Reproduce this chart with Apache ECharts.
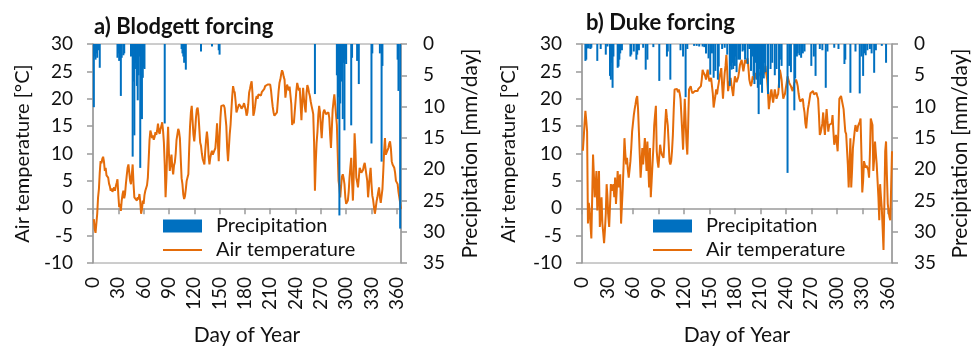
<!DOCTYPE html>
<html>
<head>
<meta charset="utf-8">
<script src="https://cdn.jsdelivr.net/npm/echarts@6/dist/echarts.min.js"></script>
<style>
  html, body { margin: 0; padding: 0; background: #fff; }
  #chart { width: 972px; height: 351px; }
</style>
</head>
<body>
<div id="chart"></div>
<script>
// Daily air temperature (°C), day 1..365, Blodgett site forcing
const blodgettTemp = [
  -2.0, -3.8, -4.5, -4.3, -1.0, 2.0, 3.5, 6.5, 8.6, 8.2,
  9.0, 9.4, 8.5, 6.8, 7.4, 6.0, 6.2, 5.6, 4.5, 4.0,
  3.2, 3.6, 3.0, 3.4, 3.8, 3.2, 4.0, 4.6, 5.3, 2.5,
  0.2, 0.8, -0.5, 1.4, 2.5, 3.2, 1.8, 2.6, 4.5, 6.0,
  7.4, 8.0, 6.5, 5.0, 4.4, 6.2, 8.0, 4.5, 2.0, 2.3,
  1.8, 1.4, 2.0, 1.6, 2.6, 1.2, -1.0, -0.2, 1.4, 0.8,
  2.4, 3.2, 3.0, 4.2, 5.6, 9.0, 12.5, 14.2, 13.6, 12.8,
  13.3, 12.5, 13.0, 13.9, 13.4, 14.2, 15.45, 14.0, 13.6, 14.5,
  15.0, 15.7, 14.2, 12.0, 8.0, 2.0, 5.5, 11.0, 14.9, 10.0,
  6.8, 8.5, 9.8, 7.5, 6.2, 7.8, 8.4, 10.0, 12.5, 13.5,
  14.5, 14.0, 12.7, 9.0, 5.5, 4.4, 2.5, 1.7, 2.2, 3.5,
  5.0, 5.6, 6.2, 11.0, 15.0, 17.5, 18.7, 16.0, 13.5, 12.2,
  14.0, 16.5, 18.0, 18.4, 17.0, 14.5, 12.0, 11.4, 10.0, 9.0,
  8.5, 8.0, 10.5, 12.5, 14.0, 12.5, 9.5, 8.0, 9.2, 10.0,
  10.5, 9.8, 10.2, 10.5, 11.0, 13.0, 15.5, 12.0, 8.6, 13.0,
  16.5, 18.7, 18.9, 19.0, 18.8, 18.3, 18.0, 15.0, 11.0, 8.6,
  11.0, 13.5, 15.2, 18.0, 20.5, 22.3, 21.5, 21.1, 19.5, 17.5,
  18.0, 18.5, 19.0, 19.3, 18.6, 18.2, 18.0, 18.7, 19.2, 19.0,
  18.0, 16.9, 17.5, 19.0, 21.1, 21.8, 22.6, 23.2, 21.0, 16.9,
  17.5, 18.5, 19.9, 20.5, 20.0, 20.8, 20.5, 21.0, 20.6, 21.2,
  21.4, 21.0, 21.8, 22.3, 22.6, 22.4, 22.6, 22.5, 22.8, 22.6,
  21.5, 19.9, 18.5, 17.5, 16.9, 17.2, 17.0, 17.5, 19.5, 21.5,
  22.9, 23.5, 24.5, 25.2, 24.8, 24.0, 23.5, 20.2, 21.5, 22.6,
  22.6, 21.5, 22.2, 22.0, 19.0, 15.2, 16.0, 15.5, 15.8, 19.5,
  21.5, 22.9, 22.2, 21.5, 22.0, 19.0, 16.1, 19.5, 22.0, 20.0,
  18.5, 17.5, 21.0, 22.5, 22.0, 21.1, 20.5, 19.5, 18.7, 18.0,
  17.2, 12.0, 3.2, 8.5, 12.0, 14.0, 17.0, 18.7, 17.5, 15.0,
  12.8, 15.5, 17.5, 18.0, 17.8, 17.2, 16.9, 17.2, 17.5, 16.5,
  13.5, 11.0, 14.5, 18.0, 19.5, 20.8, 19.0, 17.0, 15.2, 10.0,
  5.0, 3.8, 2.0, 4.0, 5.8, 6.2, 5.5, 4.4, 2.0, 0.8,
  0.9, 1.4, 3.0, 5.6, 7.5, 9.2, 5.0, 1.4, 6.0, 13.7,
  10.5, 5.6, 4.8, 3.8, 5.5, 7.4, 7.0, 6.5, 6.2, 7.0,
  7.8, 8.3, 8.5, 8.0, 5.0, 2.0, 4.0, 6.0, 7.4, 4.5,
  2.3, 1.5, 0.2, -1.0, 0.0, 1.2, 2.0, 3.0, 3.8, 2.0,
  1.0, 0.8, 3.5, 6.8, 10.5, 12.8, 9.8, 10.2, 10.5, 11.0,
  11.8, 12.2, 11.0, 8.6, 8.0, 7.8, 7.4, 6.5, 5.0, 4.8,
  4.4, 3.0, 2.0, 1.0, -0.1
];

// Daily air temperature (°C), day 1..365, Duke site forcing
const dukeTemp = [
  10.5, 12.8, 15.5, 17.8, 16.0, 14.0, -2.8, 1.0, -0.4, -3.0,
  -5.5, 2.0, 9.8, 6.0, 2.0, 4.0, 6.8, -0.4, 3.0, 6.8,
  -3.4, -1.0, 2.0, -2.8, -4.5, -6.4, -4.0, -1.0, 4.4, 2.0,
  -1.5, -3.4, 0.5, 4.4, 3.2, 3.8, 4.4, 2.0, 5.6, 0.8,
  3.5, 6.8, 3.8, 5.0, 6.2, -2.8, 0.5, 3.8, 8.0, 12.8,
  10.0, 8.0, 9.2, 7.0, 5.6, 7.0, 8.6, 11.0, 14.0, 15.5,
  17.0, 18.1, 19.0, 20.0, 20.5, 18.1, 14.0, 9.8, 5.6, 8.0,
  11.0, 8.0, 10.5, 12.8, 10.0, 6.8, 12.2, 8.0, 3.8, 11.0,
  2.0, 5.0, 8.0, 11.0, 15.1, 17.0, 18.7, 10.4, 8.5, 7.4,
  9.5, 11.6, 10.5, 9.8, 9.5, 9.2, 12.0, 15.5, 18.1, 16.5,
  15.1, 12.0, 8.6, 8.0, 8.6, 10.5, 13.4, 18.0, 21.7, 21.5,
  22.0, 21.8, 21.2, 21.7, 21.0, 20.0, 17.0, 14.0, 10.7, 15.0,
  20.0, 16.0, 12.0, 9.8, 15.0, 21.7, 22.0, 22.3, 21.5, 21.0,
  21.3, 21.1, 21.4, 21.6, 21.2, 21.4, 21.8, 22.0, 21.7, 22.3,
  23.5, 25.3, 24.8, 25.0, 24.2, 23.5, 24.5, 25.3, 24.0, 23.2,
  22.9, 23.8, 23.5, 21.0, 18.4, 19.5, 20.5, 21.7, 20.8, 22.0,
  22.9, 24.0, 24.8, 25.6, 22.5, 20.0, 22.5, 24.7, 26.0, 28.0,
  25.0, 21.4, 22.5, 22.8, 23.8, 22.5, 21.5, 20.5, 22.5, 24.1,
  23.8, 23.0, 22.9, 24.0, 25.0, 26.2, 26.5, 27.1, 26.0, 25.0,
  26.0, 27.1, 26.5, 27.0, 27.4, 25.5, 23.5, 22.8, 22.3, 23.0,
  24.1, 24.0, 23.5, 24.0, 24.7, 24.5, 24.0, 24.1, 24.5, 24.8,
  25.0, 24.7, 24.3, 24.1, 25.0, 26.0, 24.5, 23.5, 21.0, 18.1,
  19.5, 21.0, 21.7, 20.5, 19.3, 20.5, 21.7, 20.8, 20.0, 20.5,
  20.9, 23.0, 25.3, 24.5, 23.5, 21.5, 20.0, 20.5, 20.9, 22.0,
  22.9, 24.1, 23.5, 22.9, 22.6, 22.3, 21.8, 21.4, 22.0, 22.9,
  23.2, 23.5, 23.0, 22.3, 21.0, 20.0, 19.5, 19.3, 19.8, 20.0,
  18.5, 17.5, 15.5, 14.6, 16.5, 18.1, 19.0, 20.0, 21.0, 21.1,
  21.3, 21.4, 20.8, 20.5, 20.8, 21.1, 20.5, 20.0, 17.0, 13.4,
  13.8, 14.0, 15.5, 17.5, 15.0, 13.4, 16.0, 18.1, 16.0, 14.0,
  15.2, 15.0, 14.9, 15.5, 17.0, 14.0, 11.6, 12.5, 13.4, 12.0,
  10.4, 14.5, 20.0, 20.3, 20.5, 20.2, 20.5, 18.1, 16.0, 14.0,
  13.6, 13.4, 8.0, 3.8, 8.0, 12.8, 3.8, 7.0, 11.0, 12.5,
  14.0, 15.2, 14.5, 14.0, 15.0, 15.2, 15.8, 16.4, 10.0, 2.9,
  5.0, 8.6, 8.0, 7.4, 7.8, 8.0, 7.0, 5.6, 10.0, 16.4,
  15.8, 15.2, 6.8, 9.0, 12.2, 10.0, 8.0, 5.0, 2.0, -2.2,
  4.4, 2.0, 0.0, -3.8, -7.6, 0.8, 10.4, 12.2, 6.0, 0.8,
  -0.5, -1.6, -2.2, 4.0, 10.4
];

// Rain days as [day of year, precipitation mm/day]; all other days are dry
const blodgettPrecip = [
  [1, 10.1], [2, 2.0], [3, 2.5], [4, 1.5], [5, 2.2], [6, 1.0], [8, 3.8],
  [29, 2.2], [30, 1.5], [31, 2.7], [33, 8.3], [34, 2.2], [36, 1.8], [37, 1.5],
  [45, 2.0], [46, 1.5], [47, 18.0], [48, 6.0], [49, 14.6], [50, 3.0], [51, 4.0],
  [52, 6.7], [53, 9.0], [54, 5.0], [55, 2.0], [56, 19.8], [57, 8.0], [58, 12.0],
  [59, 5.4], [60, 3.8], [61, 4.0],
  [85, 12.7],
  [105, 0.8], [106, 1.5], [107, 2.0], [108, 3.0], [109, 2.4], [110, 4.1],
  [128, 1.2], [141, 0.4], [149, 1.0], [150, 1.7],
  [263, 8.0],
  [289, 5.0], [290, 12.0], [291, 8.5], [292, 27.4], [293, 9.5], [294, 6.0],
  [295, 4.0], [296, 12.0], [297, 3.0], [298, 13.8], [299, 2.5], [300, 3.2],
  [306, 13.0], [307, 2.2], [313, 2.7], [315, 6.4],
  [330, 15.9], [331, 1.5], [340, 1.5], [342, 18.8], [343, 3.5],
  [361, 2.5], [362, 7.5], [364, 29.5]
];

const dukePrecip = [
  [4, 2.7], [5, 2.5], [6, 0.7], [8, 0.7], [10, 0.8], [11, 0.6], [18, 2.7], [22, 0.8],
  [28, 1.7], [30, 0.4], [33, 5.1], [34, 5.7], [35, 3.0], [36, 7.0], [37, 2.0],
  [42, 3.8], [43, 3.6], [44, 2.5], [45, 1.5], [47, 1.0], [57, 2.0], [58, 1.7],
  [61, 1.2], [64, 2.5], [65, 1.7], [67, 1.0], [72, 0.6], [75, 4.1], [77, 2.5],
  [84, 0.5], [91, 5.9], [100, 2.0], [101, 1.2], [104, 5.7], [116, 1.0], [119, 2.0],
  [122, 8.5], [124, 0.8], [132, 0.3], [135, 0.3], [138, 0.4], [142, 0.4], [144, 0.5],
  [146, 1.5], [149, 2.3], [151, 4.9], [153, 1.5], [155, 5.4], [157, 4.3], [160, 5.7],
  [161, 3.6], [165, 0.8], [168, 0.6], [171, 1.7], [174, 6.7], [175, 3.5], [176, 4.1],
  [177, 3.0], [178, 4.0], [179, 2.0], [180, 3.5], [181, 2.0], [182, 4.5], [184, 2.5],
  [186, 2.5], [189, 1.2], [191, 1.0], [192, 2.5], [195, 3.2], [197, 0.8], [199, 4.3],
  [201, 2.0], [202, 5.1], [203, 6.4], [204, 3.0], [206, 5.7], [207, 7.0], [208, 11.2],
  [209, 4.0], [210, 6.5], [211, 5.0], [212, 7.8], [213, 4.0], [214, 5.5], [215, 3.0],
  [216, 4.5], [219, 8.0], [222, 4.0], [224, 3.0], [227, 5.0], [229, 4.0], [232, 7.0],
  [233, 2.5], [235, 3.5], [242, 20.6], [244, 3.5], [246, 4.5], [250, 10.6], [251, 5.5],
  [253, 2.0], [254, 1.5], [256, 1.8], [258, 2.2], [260, 1.5], [262, 1.2], [270, 3.5],
  [273, 2.0], [275, 5.1], [280, 0.8], [283, 1.0], [287, 7.0], [289, 1.2], [297, 0.6],
  [302, 0.8], [309, 3.2], [310, 2.5], [316, 7.8], [322, 1.2], [327, 7.9], [329, 2.0],
  [331, 5.1], [332, 1.5], [334, 1.8], [336, 1.0], [339, 0.8], [341, 1.5], [344, 4.6],
  [346, 1.0], [353, 0.3], [358, 3.0]
];

const dayTicks = { min: 0, max: 365, interval: 30 };
const tempTicks = { min: -10, max: 30, interval: 5 };
const precipTicks = { min: 0, max: 35, interval: 5 };

const panelTitles = ['a) Blodgett forcing', 'b) Duke forcing'];
const seriesNames = ['Precipitation', 'Air temperature'];

const FONT = 'Lato, "Noto Sans", sans-serif';
const TEXT = '#111';
const AXIS = '#9a9a9a';
const BLUE = '#0070C0';
const ORANGE = '#E46C0A';

function withDays(values) {
  return values.map((v, i) => [i + 1, v]);
}

const panels = [
  { left: 93, width: 308, temp: blodgettTemp, precip: blodgettPrecip,
    leftGap: 60, rightGap: 59, titleLeft: 89, titleTop: 11, legendLeft: 157 },
  { left: 582, width: 310, temp: dukeTemp, precip: dukePrecip,
    leftGap: 63, rightGap: 58, titleLeft: 581, titleTop: 7, legendLeft: 647 }
];

const grids = [], xAxes = [], yAxes = [], series = [], titles = [], legends = [];

panels.forEach((p, k) => {
  grids.push({ left: p.left, top: 44, width: p.width, height: 223,
    show: true, borderColor: AXIS, borderWidth: 1, containLabel: false });

  xAxes.push({
    gridIndex: k, type: 'value', min: dayTicks.min, max: dayTicks.max, interval: dayTicks.interval,
    name: 'Day of Year', nameLocation: 'middle', nameGap: 62,
    nameTextStyle: { fontFamily: FONT, fontSize: 21, color: TEXT },
    axisLine: { show: true, lineStyle: { color: AXIS, width: 1.5 } },
    axisTick: { show: true, length: 6, lineStyle: { color: AXIS, width: 1.5 } },
    axisLabel: { rotate: 90, margin: 14, fontFamily: FONT, fontSize: 19, color: TEXT,
      showMaxLabel: false },
    splitLine: { show: false }
  });

  yAxes.push({
    gridIndex: k, type: 'value', position: 'left',
    min: tempTicks.min, max: tempTicks.max, interval: tempTicks.interval,
    name: 'Air temperature [°C]', nameLocation: 'middle', nameRotate: 90, nameGap: p.leftGap,
    nameTextStyle: { fontFamily: FONT, fontSize: 20, color: TEXT },
    axisLine: { show: true, lineStyle: { color: AXIS, width: 1.5 } },
    axisTick: { show: true, length: 6, lineStyle: { color: AXIS, width: 1.5 } },
    axisLabel: { margin: 20, fontFamily: FONT, fontSize: 19, color: TEXT },
    splitLine: { show: false }
  });

  yAxes.push({
    gridIndex: k, type: 'value', position: 'right', inverse: true,
    min: precipTicks.min, max: precipTicks.max, interval: precipTicks.interval,
    name: 'Precipitation [mm/day]', nameLocation: 'middle', nameRotate: 90, nameGap: p.rightGap,
    nameTextStyle: { fontFamily: FONT, fontSize: 21, color: TEXT },
    axisLine: { show: true, lineStyle: { color: AXIS, width: 1.5 } },
    axisTick: { show: true, length: 6, lineStyle: { color: AXIS, width: 1.5 } },
    axisLabel: { margin: 22, fontFamily: FONT, fontSize: 19, color: TEXT },
    splitLine: { show: false }
  });

  series.push({
    name: seriesNames[1], type: 'line', xAxisIndex: k, yAxisIndex: 2 * k,
    data: withDays(p.temp), symbol: 'none', showSymbol: false,
    lineStyle: { color: ORANGE, width: 2 }, itemStyle: { color: ORANGE }, z: 2
  });

  series.push({
    name: seriesNames[0], type: 'bar', xAxisIndex: k, yAxisIndex: 2 * k + 1,
    data: p.precip, barWidth: 2, itemStyle: { color: BLUE }, z: 3
  });

  titles.push({ text: panelTitles[k], left: p.titleLeft, top: p.titleTop,
    textStyle: { fontFamily: FONT, fontSize: 22, fontWeight: 'bold', color: TEXT } });

  legends.push({
    left: p.legendLeft, top: 211, orient: 'vertical', itemWidth: 39, itemHeight: 13, itemGap: 4,
    data: [
      { name: seriesNames[0], icon: 'rect' },
      { name: seriesNames[1], itemStyle: { opacity: 0 },
        lineStyle: { color: ORANGE, width: 2 } }
    ],
    textStyle: { fontFamily: FONT, fontSize: 20, color: TEXT, padding: [0, 0, 0, 9] },
    selectedMode: false
  });
});

const chart = echarts.init(document.getElementById('chart'), null, { renderer: 'canvas' });
chart.setOption({
  animation: false,
  backgroundColor: '#fff',
  title: titles,
  legend: legends,
  grid: grids,
  xAxis: xAxes,
  yAxis: yAxes,
  series: series
});
</script>
</body>
</html>
